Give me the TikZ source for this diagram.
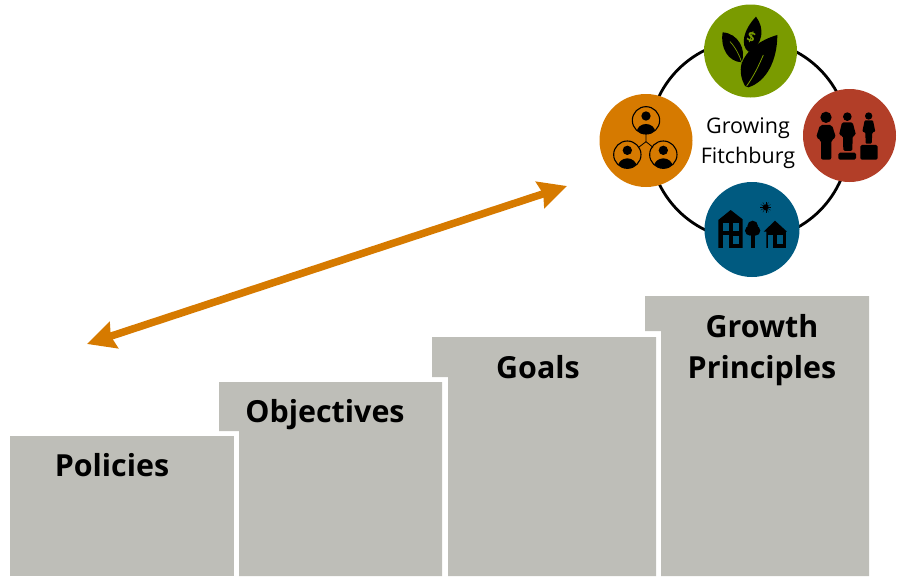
\documentclass[tikz,border=0pt]{standalone}
\usepackage{fontspec}
\setmainfont{Open Sans}
\usetikzlibrary{arrows.meta}
\definecolor{stairgray}{RGB}{190,190,184}
\definecolor{fitchorange}{RGB}{214,122,0}
\definecolor{fitchgreen}{RGB}{122,155,0}
\definecolor{fitchred}{RGB}{178,62,40}
\definecolor{fitchblue}{RGB}{0,90,128}
\begin{document}
\begin{tikzpicture}[
		x=1pt, y=-1pt,
		stair/.style={
				fill=stairgray,
				draw=none,
			},
		steplabel/.style={
				font=\bfseries\fontsize{30.4}{40}\selectfont,
				align=center,
				anchor=base,
				inner sep=0pt,
			},
		badge/.style={
				circle,
				fill=#1,
				draw=none,
				inner sep=0pt,
				minimum size=93pt,
			},
		zoomed/.style={
				shift={#1},
				x=.3333pt, y=-.3333pt,
			},
		usericon/.pic={
				\begin{scope}
					\clip (0,0) circle[radius=41];
					\fill[black] (0,-13) circle[radius=14];
					\fill[black] (0,36) ellipse[x radius=28, y radius=25];
				\end{scope}
				\draw[black, line width=1.1pt] (0,0) circle[radius=41];
			},
	]
	\useasboundingbox (0,0) rectangle (900,576);

	% stairs
	\fill[stair] (10,436) -- (234,436) -- (234,576) -- (10,576) -- cycle;
	\fill[stair] (219,382) -- (442,382) -- (442,576) -- (239,576) -- (239,431) -- (219,431) -- cycle;
	\fill[stair] (432,337) -- (656,337) -- (656,576) -- (448,576) -- (448,377) -- (432,377) -- cycle;
	\fill[stair] (645,296) -- (869,296) -- (869,576) -- (661,576) -- (661,331) -- (645,331) -- cycle;
	\node[steplabel] (policies) at (112,476) {Policies};
	\node[steplabel] (objectives) at (325,422) {Objectives};
	\node[steplabel] (goals) at (538,378) {Goals};
	\node[steplabel] (growth) at (762,337) {Growth};
	\node[steplabel] (principles) at (762,378) {Principles};

	% arrow
	\coordinate (low) at (87,344);
	\coordinate (high) at (567,186);
	\draw[{Stealth[length=28pt,width=27pt,inset=3pt]}-{Stealth[length=28pt,width=27pt,inset=3pt]}, fitchorange, line width=7.5pt] (low) -- (high);

	% ring
	\node[circle, draw=black, line width=2.8pt, minimum size=200pt, inner sep=0pt] (ring) at (749,140) {};
	\node[align=center, inner sep=0pt, font=\fontsize{21.5}{30}\selectfont] (ringlabel) at (748,143) {Growing\\Fitchburg};
	\node[badge=fitchgreen] (sprout) at (750.5,51) {};
	\node[badge=fitchorange] (people) at (646,140.5) {};
	\node[badge=fitchred] (equity) at (849.5,135.5) {};
	\node[badge=fitchblue, minimum size=95pt] (homes) at (752,229.5) {};

	% leaves
	\begin{scope}[zoomed={(700,0)}]
		\fill[black] (68,97) .. controls (115,100) and (140,150) .. (125,187) .. controls (85,185) and (60,145) .. cycle;
		\draw[fitchgreen, line width=.7pt] (90,125) .. controls (105,140) and (118,165) .. (125,187);
		\fill[black] (168,50) .. controls (195,85) and (190,135) .. (145,155) .. controls (120,135) and (130,90) .. cycle;
		\fill[black] (232,105) .. controls (232,180) and (200,245) .. (145,262) -- (135,258) .. controls (125,240) and (118,215) .. (125,190) .. controls (140,150) and (180,120) .. cycle;
		\draw[fitchgreen, line width=.8pt] (190,165) .. controls (175,200) and (160,230) .. (140,258);
		\node[rotate=-20, text=fitchgreen, inner sep=0pt, font=\bfseries\fontsize{14}{14}\selectfont] (dollar) at (154,112) {\$};
	\end{scope}

	% figures on blocks
	\begin{scope}[zoomed={(800,85)}]
		\fill[black] (78,97) circle[radius=17];
		\fill[black, rounded corners=2pt] (60,120) -- (96,120) -- (108,158) -- (94,165) -- (94,224) -- (63,224) -- (63,165) -- (48,158) -- cycle;
		\fill[black] (142,95) circle[radius=13];
		\fill[black, rounded corners=1.5pt] (126,112) -- (158,112) -- (168,150) -- (158,153) -- (157,198) -- (130,198) -- (129,153) -- (117,150) -- cycle;
		\fill[black, rounded corners=1.5pt] (115,203) rectangle (168,224);
		\fill[black] (206,93) circle[radius=11];
		\fill[black, rounded corners=1pt] (194,106) -- (219,106) -- (226,140) -- (217,142) -- (215,176) -- (197,176) -- (196,142) -- (187,140) -- cycle;
		\fill[black, rounded corners=1.5pt] (181,180) rectangle (233,224);
	\end{scope}

	% houses
	\begin{scope}[zoomed={(700,180)}]
		\fill[black] (92,90) -- (128,118) -- (128,204) -- (55,204) -- (55,120) -- cycle;
		\fill[fitchblue] (68,130) rectangle (88,152);
		\fill[fitchblue] (100,130) rectangle (117,152);
		\fill[fitchblue] (68,165) rectangle (88,204);
		\fill[fitchblue] (100,168) rectangle (117,192);
		\fill[black] (158,138) circle[radius=16];
		\fill[black] (150,152) circle[radius=15];
		\fill[black] (166,152) circle[radius=15];
		\fill[black] (154,150) rectangle (164,204);
		\fill[black] (225,122) -- (261,155) -- (258,155) -- (258,204) -- (199,204) -- (199,155) -- (191,155) -- cycle;
		\fill[fitchblue] (205,165) rectangle (219,204);
		\fill[fitchblue] (230,165) rectangle (248,192);
		\fill[black] (197,82) circle[radius=9];
		\foreach \a in {0,30,...,330} {
			\draw[black, line width=.3pt] (197,82) -- +(\a:17);
		}
	\end{scope}

	% connected people
	\begin{scope}[zoomed={(597,90)}]
		\pic at (147,91) {usericon};
		\pic at (91,194) {usericon};
		\pic at (199,194) {usericon};
		\draw[black, line width=.8pt] (147,132) -- (147,155) -- (125,172);
		\draw[black, line width=.8pt] (147,155) -- (168,172);
	\end{scope}
\end{tikzpicture}
\end{document}
